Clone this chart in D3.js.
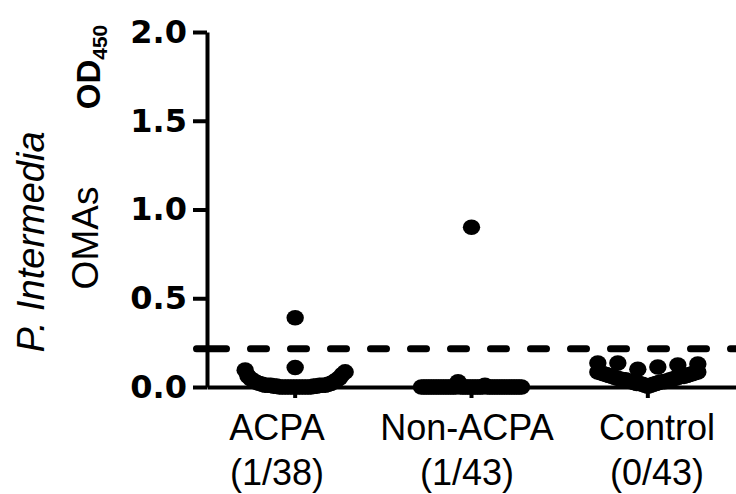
<!DOCTYPE html>
<html>
<head>
<meta charset="utf-8">
<script src="https://cdn.jsdelivr.net/npm/d3@7"></script>
<style>
  body { margin: 0; background: #fff; }
  .tick text { font-family: "DejaVu Sans", sans-serif; font-weight: bold; font-size: 32px; fill: #000; }
  .lbl { font-family: "Liberation Sans", Arial, sans-serif; font-size: 36px; fill: #000; }
</style>
</head>
<body>
<div id="holder"></div>
<script>
// groups and their positive counts
var groups = ["ACPA", "Non-ACPA", "Control"],
    counts = ["(1/38)", "(1/43)", "(0/43)"];

// OD450 values
var acpa = [0, 0, 0, 0, 0, 0, 0, 0, 0, 0, 0, 0,
            0.005, 0.005, 0.005, 0.005, 0.01, 0.01, 0.01, 0.01, 0.01, 0.01,
            0.015, 0.015, 0.02, 0.02, 0.025, 0.03, 0.035, 0.04, 0.045, 0.05,
            0.06, 0.07, 0.095, 0.085,
            0.11, 0.39];
var nonAcpa = [0, 0, 0, 0, 0, 0, 0, 0, 0, 0, 0.03, 0.01,
               0, 0, 0, 0, 0, 0, 0, 0, 0, 0, 0, 0, 0, 0, 0,
               0, 0, 0, 0, 0, 0, 0, 0, 0, 0, 0, 0, 0, 0, 0,
               0.9];
var control = [0.005, 0.01, 0.01, 0.015, 0.015, 0.02, 0.02, 0.02, 0.025, 0.025,
               0.03, 0.03, 0.03, 0.035, 0.035, 0.04, 0.04, 0.04, 0.045, 0.045,
               0.05, 0.05, 0.055, 0.055, 0.06, 0.06, 0.06, 0.065, 0.065, 0.07,
               0.07, 0.075, 0.075, 0.08, 0.08, 0.085, 0.085,
               0.10, 0.113, 0.135, 0.124, 0.135, 0.13];
var cutoff = 0.215;
var yTicks = [0, 0.5, 1.0, 1.5, 2.0];

var WIDTH = 736,
    HEIGHT = 494,
    MARGINS = { top: 32, right: 0, bottom: 107, left: 207 };

var svg = d3.select("#holder").append("svg")
    .attr("width", WIDTH)
    .attr("height", HEIGHT);

var x = d3.scaleBand()
    .domain(groups)
    .range([MARGINS.left, WIDTH - MARGINS.right]);
// category labels sit on a slightly wider spacing than the ticks
var xl = d3.scalePoint()
    .domain(groups)
    .range([277, 657]);
var y = d3.scaleLinear()
    .domain([0, 2])
    .range([HEIGHT - MARGINS.bottom, MARGINS.top]);

// y axis
var gy = svg.append("g")
    .attr("transform", "translate(" + MARGINS.left + ",0)")
    .call(d3.axisLeft(y)
        .tickValues(yTicks)
        .tickFormat(d3.format(".1f"))
        .tickSize(14)
        .tickSizeOuter(0)
        .tickPadding(6));
gy.selectAll("path, line").attr("stroke", "#000").attr("stroke-width", 4);

// x axis
var gx = svg.append("g")
    .attr("transform", "translate(0," + (HEIGHT - MARGINS.bottom) + ")")
    .call(d3.axisBottom(x).tickSize(11).tickSizeOuter(0).tickFormat(""));
gx.selectAll("path, line").attr("stroke", "#000").attr("stroke-width", 4);

// two-line category labels
var lbl = svg.append("g").selectAll("g").data(groups).enter().append("g");
lbl.append("text").attr("class", "lbl")
    .attr("x", function(d) { return xl(d); })
    .attr("y", 440)
    .attr("text-anchor", "middle")
    .text(function(d) { return d; });
lbl.append("text").attr("class", "lbl")
    .attr("x", function(d) { return xl(d); })
    .attr("y", 485)
    .attr("text-anchor", "middle")
    .text(function(d, i) { return counts[i]; });

// cutoff line (first dash runs across the axis)
var dashes = [30, 24];
d3.range(14).forEach(function() { dashes.push(16, 24); });
svg.append("line")
    .attr("x1", 196.5).attr("x2", WIDTH)
    .attr("y1", y(cutoff)).attr("y2", y(cutoff))
    .attr("stroke", "#000")
    .attr("stroke-width", 7)
    .attr("stroke-linecap", "round")
    .attr("stroke-dasharray", dashes.join(","));

// scatter layout: points in the same 0.1 band are spread side by side,
// centre first then alternating left / right
function swarm(values, key) {
  var rows = d3.group(values.map(function(v) { return { v: v }; }),
      function(d) { return Math.floor(d.v / 0.1 + 1e-9); });
  var pts = [];
  rows.forEach(function(row) {
    var n = row.length,
        step = n > 1 ? Math.min(20, 100 / (n - 1)) : 0;
    var slots = d3.range(n).map(function(j) { return (j - (n - 1) / 2) * step; })
        .sort(function(a, b) { return Math.abs(a) - Math.abs(b) || a - b; });
    row.forEach(function(d, k) { pts.push({ group: key, v: d.v, dx: slots[k] }); });
  });
  return pts;
}

var points = swarm(acpa, "ACPA")
    .concat(swarm(nonAcpa, "Non-ACPA"))
    .concat(swarm(control, "Control"));

svg.append("g").selectAll("ellipse").data(points).enter().append("ellipse")
    .attr("cx", function(d) { return x(d.group) + x.bandwidth() / 2 + d.dx; })
    .attr("cy", function(d) { return y(d.v); })
    .attr("rx", 8.7)
    .attr("ry", 7.8)
    .attr("fill", "#000");

// y axis title
var title = svg.append("g").attr("font-family", "Liberation Sans, Arial, sans-serif").attr("fill", "#000");
title.append("text")
    .attr("transform", "translate(44,242) rotate(-90)")
    .attr("text-anchor", "middle")
    .attr("font-size", 38)
    .attr("font-style", "italic")
    .text("P. Intermedia");
title.append("text")
    .attr("transform", "translate(98,238) rotate(-90)")
    .attr("text-anchor", "middle")
    .attr("font-size", 37)
    .text("OMAs");
var od = title.append("text")
    .attr("transform", "translate(100,67) rotate(-90)")
    .attr("text-anchor", "middle")
    .attr("font-size", 33)
    .attr("font-weight", "bold");
od.append("tspan").text("OD");
od.append("tspan").attr("font-size", 21).attr("dy", 7).text("450");
</script>
</body>
</html>
